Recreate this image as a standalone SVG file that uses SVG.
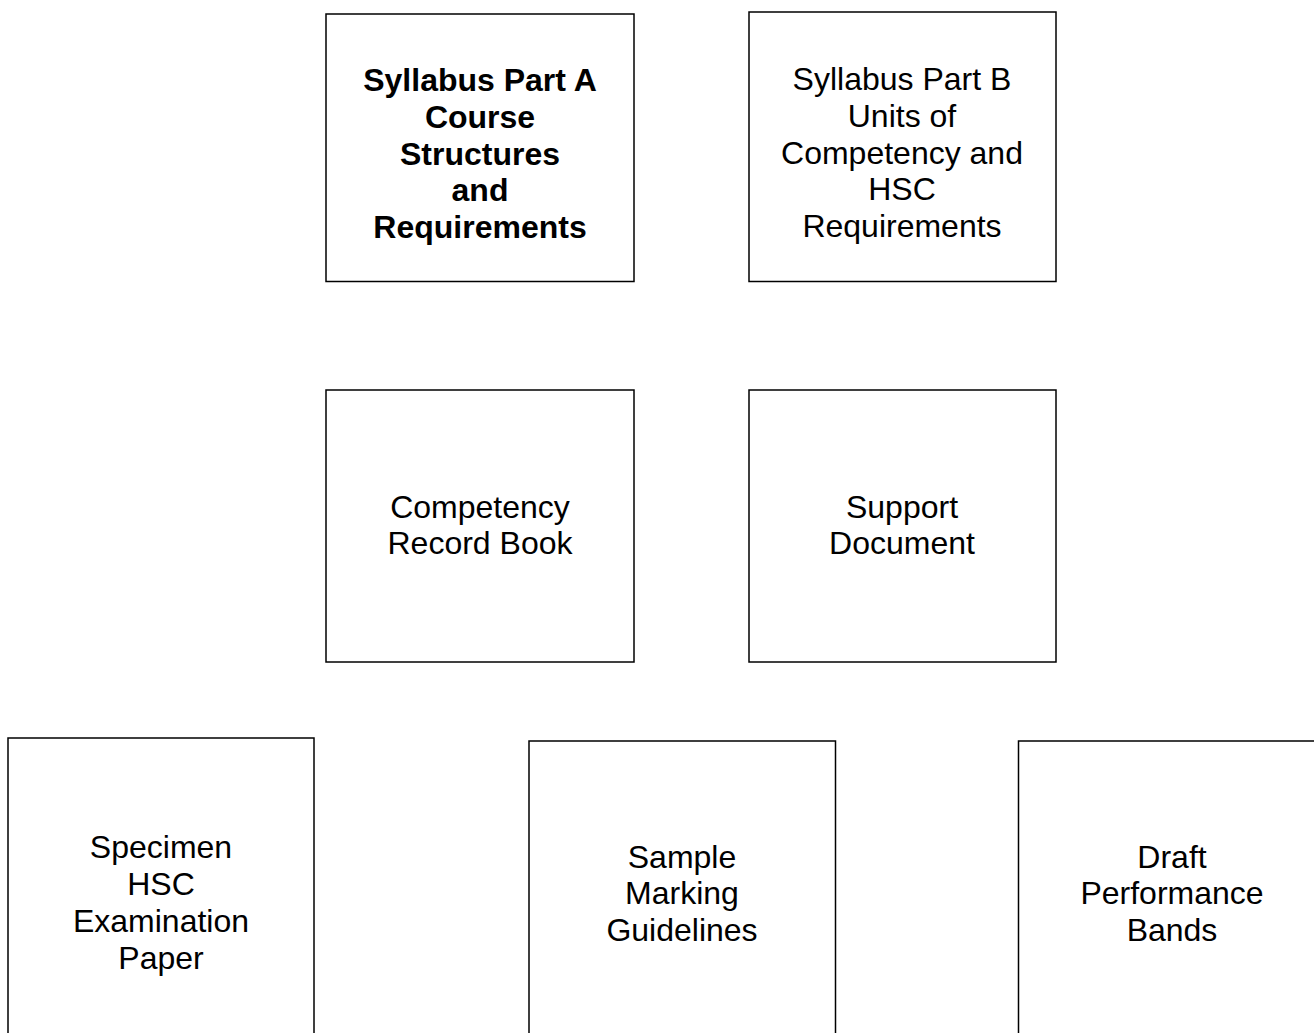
<svg xmlns="http://www.w3.org/2000/svg" width="1314" height="1033" viewBox="0 0 1314 1033">
<style>
.box{fill:#fff;stroke:#000;stroke-width:1.5}
text{font-family:"Liberation Sans",Arial,sans-serif;font-size:32px;fill:#000;text-anchor:middle}
.b{font-weight:bold}
</style>
<rect width="1314" height="1033" fill="#fff"/>
<g id="connectors"></g>
<g id="partA">
<rect class="box" x="326" y="14" width="308" height="267.5"/>
<text class="b" x="480" y="91">Syllabus Part A</text>
<text class="b" x="480" y="128">Course</text>
<text class="b" x="480" y="165">Structures</text>
<text class="b" x="480" y="201">and</text>
<text class="b" x="480" y="238">Requirements</text>
</g>
<g id="partB">
<rect class="box" x="749" y="12" width="307" height="269.5"/>
<text x="902" y="90">Syllabus Part B</text>
<text x="902" y="127">Units of</text>
<text x="902" y="164">Competency and</text>
<text x="902" y="200">HSC</text>
<text x="902" y="237">Requirements</text>
</g>
<g id="recordBook">
<rect class="box" x="326" y="390" width="308" height="272"/>
<text x="480" y="518">Competency</text>
<text x="480" y="554">Record Book</text>
</g>
<g id="supportDoc">
<rect class="box" x="749" y="390" width="307" height="272"/>
<text x="902" y="518">Support</text>
<text x="902" y="554">Document</text>
</g>
<g id="specimen">
<rect class="box" x="8" y="738" width="306" height="310"/>
<text x="161" y="858">Specimen</text>
<text x="161" y="895">HSC</text>
<text x="161" y="932">Examination</text>
<text x="161" y="969">Paper</text>
</g>
<g id="marking">
<rect class="box" x="529" y="741" width="306.5" height="310"/>
<text x="682" y="868">Sample</text>
<text x="682" y="904">Marking</text>
<text x="682" y="941">Guidelines</text>
</g>
<g id="bands">
<rect class="box" x="1018.5" y="741" width="310" height="310"/>
<text x="1172" y="868">Draft</text>
<text x="1172" y="904">Performance</text>
<text x="1172" y="941">Bands</text>
</g>
</svg>
